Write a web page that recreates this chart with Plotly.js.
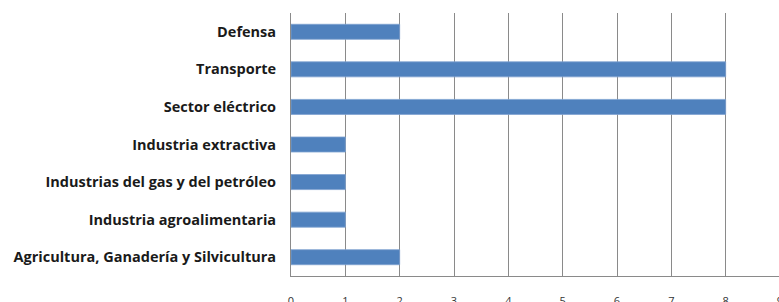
<!DOCTYPE html>
<html>
<head>
<meta charset="utf-8">
<script src="https://cdn.plot.ly/plotly-3.0.1.min.js"></script>
<style>
html,body{margin:0;padding:0;overflow:hidden;background:#fff;width:779px;height:302px;}
#chart{width:800px;height:330px;}
</style>
</head>
<body>
<div id="chart"></div>
<script>
const categories = [
  "Agricultura, Ganadería y Silvicultura",
  "Industria agroalimentaria",
  "Industrias del gas y del petróleo",
  "Industria extractiva",
  "Sector eléctrico",
  "Transporte",
  "Defensa"
];
const values = [2, 1, 1, 1, 8, 8, 2];
const xTicks = [0, 1, 2, 3, 4, 5, 6, 7, 8, 9];

const trace = {
  type: 'bar',
  orientation: 'h',
  y: categories,
  x: values,
  marker: {color: '#4F81BD', line: {color: '#7FA2D0', width: 0.8}},
  hoverinfo: 'none'
};

const layout = {
  width: 800,
  height: 330,
  margin: {l: 291, r: 20, t: 13, b: 54},
  paper_bgcolor: '#ffffff',
  plot_bgcolor: '#ffffff',
  showlegend: false,
  bargap: 0.6,
  font: {family: '"Open Sans", sans-serif', color: '#000'},
  xaxis: {
    range: [0, 9],
    tickvals: xTicks,
    ticktext: xTicks.map(String),
    showgrid: true,
    gridcolor: '#8a8a8a',
    gridwidth: 1,
    zeroline: false,
    showline: true,
    linecolor: '#8a8a8a',
    linewidth: 1,
    ticks: '',
    ticklabelstandoff: 15,
    tickfont: {size: 11, color: '#333', family: '"Open Sans", sans-serif'},
    fixedrange: true
  },
  yaxis: {
    type: 'category',
    categoryorder: 'array',
    categoryarray: categories,
    showgrid: false,
    zeroline: false,
    showline: true,
    linecolor: '#8a8a8a',
    linewidth: 1,
    ticks: '',
    ticklabelstandoff: 11,
    tickfont: {size: 14.5, color: '#1a1a1a', family: '"Open Sans", sans-serif', weight: 'bold'},
    fixedrange: true
  }
};

Plotly.newPlot('chart', [trace], layout, {staticPlot: true, displayModeBar: false});
</script>
</body>
</html>
